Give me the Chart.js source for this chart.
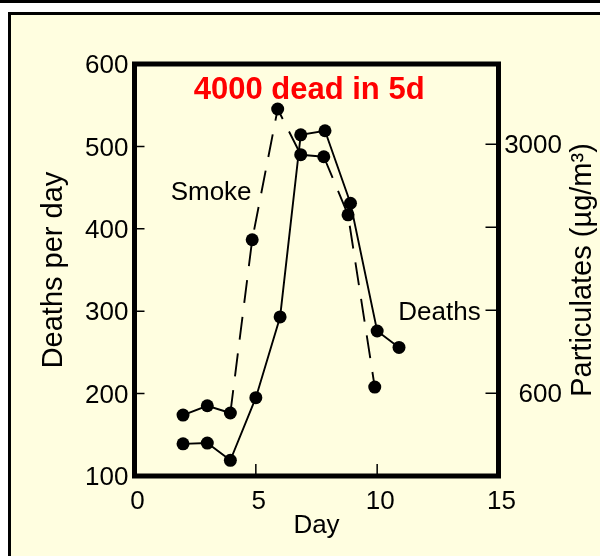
<!DOCTYPE html>
<html><head><meta charset="utf-8">
<script src="https://cdn.jsdelivr.net/npm/chart.js@4.4.1/dist/chart.umd.min.js"></script>
<style>html,body{margin:0;padding:0;background:#fff;}#wrap{width:600px;height:556px;}</style>
</head><body><div id="wrap"><canvas id="c" width="600" height="556"></canvas></div>
<script>
// ---- data ----
const deathDays      = [2, 3, 3.95, 5, 6, 6.85, 7.85, 8.9, 10, 10.9];
const deathsPerDay   = [139, 140, 119, 195, 293, 514, 519, 431, 276, 256];
const smokeDays      = [2, 3, 3.95, 4.85, 5.9, 6.85, 7.8, 8.8, 9.9];
const particulates   = [390, 480, 410, 2080, 3340, 2900, 2880, 2320, 660];
const smokeSolidSegments = [0, 1, 5];
const particulateTicks  = [600, 1400, 2200, 3000];
const particulateLabels = [600, 3000];
const titleText   = '4000 dead in 5d';
const smokeLabel  = 'Smoke';
const deathsLabel = 'Deaths';
const yTitle  = 'Deaths per day';
const y2Title = 'Particulates (µg/m³)';
const xTitle  = 'Day';

const FONT = '"Liberation Sans", Arial, Helvetica, sans-serif';
const CREAM = '#FFFEE0';
const DASH = [23, 14];

const notes = [
  {text: titleText,  x: 2.44,  y: 557, font: 'bold 31px ' + FONT, color: '#FF0000'},
  {text: smokeLabel, x: 1.49,  y: 435, font: '26px ' + FONT, color: '#000'},
  {text: deathsLabel, x: 10.87, y: 289, font: '26px ' + FONT, color: '#000'}
];

const framePlugin = {
  id: 'frame',
  beforeDraw(chart) {
    const ctx = chart.ctx, W = chart.width, H = chart.height;
    ctx.save();
    ctx.fillStyle = '#fff'; ctx.fillRect(0, 0, W, H);
    ctx.fillStyle = '#000'; ctx.fillRect(0, 0, W, 3);
    ctx.fillRect(8, 12, W - 8, H - 12);
    ctx.fillStyle = CREAM; ctx.fillRect(11, 15, W - 11, H - 15);
    ctx.restore();
  },
  afterDraw(chart) {
    const ctx = chart.ctx, a = chart.chartArea;
    const sx = chart.scales.x, sy = chart.scales.y, s2 = chart.scales.y2;
    ctx.save();
    ctx.strokeStyle = '#000';
    ctx.lineWidth = 1.5;
    ctx.beginPath();
    sx.ticks.forEach(t => { const p = sx.getPixelForValue(t.value); ctx.moveTo(p, a.bottom); ctx.lineTo(p, a.bottom - 12); });
    sy.ticks.forEach(t => { const p = sy.getPixelForValue(t.value); ctx.moveTo(a.left, p); ctx.lineTo(a.left + 10, p); });
    s2.ticks.forEach(t => { const p = s2.getPixelForValue(t.value); ctx.moveTo(a.right, p); ctx.lineTo(a.right - 13, p); });
    ctx.stroke();
    ctx.lineWidth = 5;
    ctx.strokeRect(a.left, a.top, a.right - a.left, a.bottom - a.top);
    notes.forEach(n => {
      ctx.font = n.font; ctx.fillStyle = n.color;
      ctx.textAlign = 'left'; ctx.textBaseline = 'alphabetic';
      ctx.fillText(n.text, sx.getPixelForValue(n.x), sy.getPixelForValue(n.y));
    });
    ctx.translate(s2.right + 29, (a.top + a.bottom) / 2);
    ctx.rotate(-Math.PI / 2);
    ctx.font = '29px ' + FONT; ctx.fillStyle = '#000';
    ctx.textAlign = 'center'; ctx.textBaseline = 'alphabetic';
    ctx.fillText(y2Title, 0, 0);
    ctx.restore();
  }
};

const tickFont = {family: FONT, size: 26};

new Chart(document.getElementById('c'), {
  type: 'line',
  data: {
    datasets: [
      {
        label: deathsLabel,
        data: deathDays.map((d, i) => ({x: d, y: deathsPerDay[i]})),
        yAxisID: 'y',
        borderColor: '#000', backgroundColor: '#000',
        borderWidth: 1.9, pointRadius: 6.5, pointBackgroundColor: '#000', pointBorderWidth: 0,
        tension: 0, fill: false
      },
      {
        label: smokeLabel,
        data: smokeDays.map((d, i) => ({x: d, y: particulates[i]})),
        yAxisID: 'y2',
        borderColor: '#000', backgroundColor: '#000',
        borderWidth: 1.9, borderDash: DASH, pointRadius: 6.5, pointBackgroundColor: '#000', pointBorderWidth: 0,
        segment: {borderDash: c => smokeSolidSegments.includes(c.p0DataIndex) ? [] : DASH},
        tension: 0, fill: false
      }
    ]
  },
  options: {
    responsive: false,
    animation: false,
    devicePixelRatio: 1,
    layout: {padding: {left: 0, right: 38, top: 64, bottom: 0}},
    plugins: {legend: {display: false}, tooltip: {enabled: false}},
    scales: {
      x: {
        type: 'linear', min: 0, max: 15,
        grid: {display: false, drawTicks: false},
        border: {display: false},
        ticks: {stepSize: 5, font: tickFont, color: '#000', padding: 10, labelOffset: 3, maxRotation: 0},
        title: {display: true, text: xTitle, font: tickFont, color: '#000', padding: {top: 0, bottom: 15}},
        afterFit: s => { s.height = 80; }
      },
      y: {
        type: 'linear', position: 'left', min: 100, max: 600,
        grid: {display: false, drawTicks: false},
        border: {display: false},
        ticks: {stepSize: 100, font: tickFont, color: '#000', padding: 6, labelOffset: 2},
        title: {display: true, text: yTitle, font: {family: FONT, size: 29}, color: '#000', padding: {top: 37, bottom: 0}},
        afterFit: s => { s.width = 134.5; }
      },
      y2: {
        type: 'linear', position: 'right', min: -197, max: 3774,
        grid: {display: false, drawTicks: false, drawOnChartArea: false},
        border: {display: false},
        afterBuildTicks: s => { s.ticks = particulateTicks.map(v => ({value: v})); },
        ticks: {font: tickFont, color: '#000', crossAlign: 'far', labelOffset: 2,
                callback: v => particulateLabels.includes(v) ? String(v) : ''},
        afterFit: s => { s.width = 63.5; }
      }
    }
  },
  plugins: [framePlugin]
});
</script>
</body></html>
